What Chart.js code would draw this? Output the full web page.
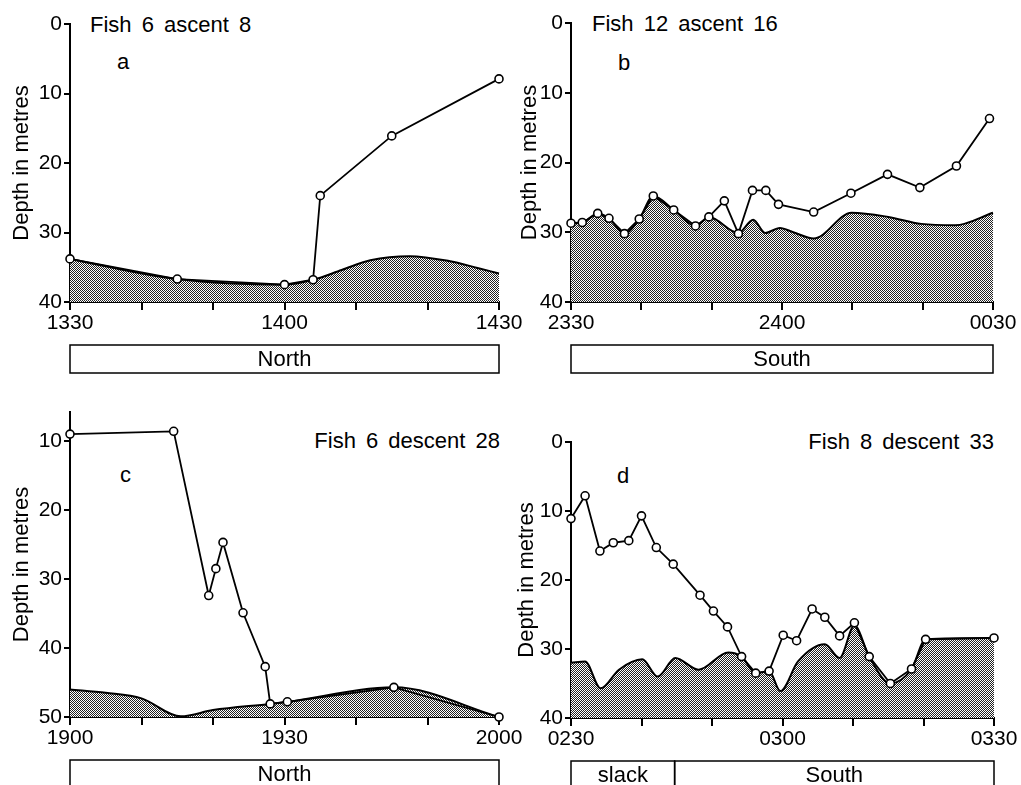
<!DOCTYPE html>
<html>
<head>
<meta charset="utf-8">
<script src="https://cdn.jsdelivr.net/npm/chart.js@4.4.0/dist/chart.umd.min.js"></script>
<style>
  html, body { margin: 0; padding: 0; background: #fff; }
  #page { position: relative; width: 1021px; height: 785px; overflow: hidden; }
  canvas { position: absolute; }
  .lbl { position: absolute; font: 22px "Liberation Sans", Arial, sans-serif; line-height: 26px;
         white-space: pre; color: #000; word-spacing: 4px; }
</style>
</head>
<body>
<div id="page">
  <div class="lbl" style="left:90px; top:12px">Fish 6 ascent 8</div>
  <div class="lbl" style="left:117px; top:49px">a</div>
  <div class="lbl" style="left:592px; top:11px">Fish 12 ascent 16</div>
  <div class="lbl" style="left:618px; top:50px">b</div>
  <div class="lbl" style="right:521px; top:428px">Fish 6 descent 28</div>
  <div class="lbl" style="left:120px; top:462px">c</div>
  <div class="lbl" style="right:27px; top:429px">Fish 8 descent 33</div>
  <div class="lbl" style="left:617px; top:463px">d</div>
</div>
<script>
// times are minutes from the start of each panel, depths in metres

// (a) Fish 6 ascent 8, 1330-1430
const ticksA = ['1330', '1400', '1430'];
const timeA = [0, 15, 30, 34, 35, 45, 60];
const fishA = [33.8, 36.7, 37.5, 36.8, 24.7, 16.1, 7.9];
const bedTimeA = [0, 15, 30, 34, 38, 42, 47.5, 53, 57, 60];
const bedA = [33.8, 36.7, 37.5, 36.8, 35.4, 34.0, 33.4, 34.1, 35.1, 35.9];

// (b) Fish 12 ascent 16, 2330-0030
const ticksB = ['2330', '2400', '0030'];
const timeB = [0, 1.6, 3.8, 5.4, 7.6, 9.7, 11.7, 14.6, 17.7, 19.6, 21.8, 23.8, 25.8, 27.7, 29.5, 34.5, 39.8, 45.0, 49.6, 54.8, 59.5];
const fishB = [28.7, 28.6, 27.3, 28.0, 30.2, 28.1, 24.8, 26.8, 29.1, 27.8, 25.5, 30.2, 24.0, 24.0, 26.0, 27.1, 24.4, 21.7, 23.6, 20.5, 13.7];
const bedTimeB = [0, 1.6, 3.8, 5.4, 7.6, 9.7, 11.7, 14.6, 17.7, 19.6, 23.8, 25.9, 27.6, 29.7, 31.6, 34.5, 39.9, 45.1, 49.8, 54.6, 60];
const bedB = [28.7, 28.6, 27.3, 28.0, 30.2, 28.1, 24.8, 26.8, 29.1, 27.8, 30.1, 28.2, 30.1, 29.4, 30.0, 30.9, 27.2, 27.8, 28.8, 29.0, 27.2];

// (c) Fish 6 descent 28, 1900-2000
const ticksC = ['1900', '1930', '2000'];
const timeC = [0, 14.5, 19.4, 20.4, 21.4, 24.2, 27.3, 28.0, 30.4, 45.3, 60];
const fishC = [9.0, 8.6, 32.4, 28.5, 24.7, 34.9, 42.7, 48.1, 47.8, 45.7, 50.0];
const bedTimeC = [0, 5, 10, 15.5, 20, 28, 30.4, 45.3, 60];
const bedC = [46.0, 46.5, 47.3, 49.9, 49.0, 48.1, 47.8, 45.7, 50.0];

// (d) Fish 8 descent 33, 0230-0330
const ticksD = ['0230', '0300', '0330'];
const timeD = [0, 2.0, 4.1, 6.0, 8.2, 10.0, 12.1, 14.5, 18.3, 20.2, 22.2, 24.2, 26.2, 28.1, 30.1, 32.0, 34.2, 36.0, 38.1, 40.2, 42.3, 45.3, 48.3, 50.3, 60];
const fishD = [11.1, 7.8, 15.8, 14.6, 14.3, 10.7, 15.3, 17.7, 22.2, 24.5, 26.8, 31.1, 33.5, 33.2, 28.0, 28.8, 24.2, 25.4, 28.1, 26.2, 31.1, 35.0, 32.9, 28.6, 28.4];
const bedTimeD = [0, 2, 4.2, 6.8, 10.1, 12.3, 14.8, 18.1, 22.3, 24.2, 26.2, 28.1, 29.7, 32.2, 36.0, 38.1, 40.2, 42.3, 45.3, 48.3, 50.3, 60];
const bedD = [32.0, 31.8, 35.7, 33.0, 31.5, 34.0, 31.3, 33.0, 30.5, 31.1, 33.5, 33.2, 36.1, 31.8, 29.3, 31.3, 26.6, 31.1, 35.0, 32.9, 28.6, 28.4];

const depthTicks = [0, 10, 20, 30, 40];
const depthTicksC = [10, 20, 30, 40, 50];

const textFont = { family: '"Liberation Sans", Arial, sans-serif', size: 22 };
const tickFont = { family: '"Liberation Sans", Arial, sans-serif', size: 21 };

const page = document.getElementById('page');
const pts = (xs, ys) => xs.map((x, i) => ({ x: x, y: ys[i] }));

// checker hatching for the sea bed
function makeHatch() {
  const c = document.createElement('canvas');
  c.width = 2; c.height = 2;
  const g = c.getContext('2d');
  g.fillStyle = '#fff'; g.fillRect(0, 0, 2, 2);
  g.fillStyle = '#222'; g.fillRect(0, 0, 1, 1); g.fillRect(1, 1, 1, 1);
  return g.createPattern(c, 'repeat');
}
const hatch = makeHatch();

// tidal current boxes under the time axis
const flowBoxes = {
  id: 'flowBoxes',
  afterDraw(chart, args, opts) {
    const { ctx, chartArea } = chart;
    const x = chart.scales.x;
    const top = chartArea.bottom + 43, h = 28;
    ctx.save();
    ctx.strokeStyle = '#000';
    ctx.lineWidth = 1.5;
    ctx.fillStyle = '#000';
    ctx.font = '22px "Liberation Sans", Arial, sans-serif';
    ctx.textAlign = 'center';
    ctx.textBaseline = 'middle';
    opts.labels.forEach((label, i) => {
      const x0 = x.getPixelForValue(opts.edges[i]);
      const x1 = x.getPixelForValue(opts.edges[i + 1]);
      ctx.strokeRect(x0, top, x1 - x0, h);
      ctx.fillText(label, (x0 + x1) / 2, top + h / 2 + 1);
    });
    ctx.restore();
  }
};

function drawPanel(p) {
  const canvas = document.createElement('canvas');
  canvas.width = 70 + p.w + 46;
  canvas.height = 24 + p.h + 90;
  canvas.style.left = (p.left - 70) + 'px';
  canvas.style.top = (p.top - 24) + 'px';
  page.appendChild(canvas);

  new Chart(canvas, {
    type: 'line',
    data: {
      datasets: [
        {
          data: pts(p.time, p.fish), clip: false,
          borderColor: '#000', borderWidth: 1.8, tension: 0, fill: false,
          pointRadius: 4, pointBackgroundColor: '#fff', pointBorderColor: '#000', pointBorderWidth: 1.6
        },
        {
          data: pts(p.bedTime, p.bed), clip: false,
          borderColor: '#000', borderWidth: 2, pointRadius: 0,
          cubicInterpolationMode: 'monotone',
          fill: { value: p.yMax }, backgroundColor: hatch
        }
      ]
    },
    options: {
      responsive: false,
      animation: false,
      devicePixelRatio: 1,
      layout: { padding: { left: 0, top: 24, right: 46, bottom: 60 } },
      plugins: {
        legend: { display: false },
        tooltip: { enabled: false },
        flowBoxes: { labels: p.flowLabels, edges: p.flowEdges }
      },
      scales: {
        x: {
          type: 'linear', min: 0, max: 60,
          afterFit: s => { s.height = 30; },
          border: { display: true, color: '#000', width: 2 },
          grid: { display: true, drawOnChartArea: false, drawTicks: true, color: '#000',
                  tickColor: '#000', tickWidth: 2, lineWidth: 2, tickLength: 8 },
          ticks: {
            stepSize: 10, autoSkip: false, maxRotation: 0, padding: 1, color: '#000', font: tickFont,
            callback: v => (v % 30 === 0 ? p.xLabels[v / 30] : '')
          }
        },
        y: {
          type: 'linear', reverse: true, min: p.yMin, max: p.yMax,
          afterFit: s => { s.width = 70; },
          afterBuildTicks: s => { s.ticks = p.yTicks.map(v => ({ value: v })); },
          border: { display: true, color: '#000', width: 2 },
          grid: { display: true, drawOnChartArea: false, drawTicks: true, color: '#000',
                  tickColor: '#000', tickWidth: 2, lineWidth: 2, tickLength: 6 },
          ticks: { padding: 2, color: '#000', font: tickFont },
          title: { display: true, text: 'Depth in metres', color: '#000', font: textFont,
                   padding: { top: p.titlePad, bottom: 0 } }
        }
      }
    },
    plugins: [flowBoxes]
  });
}

drawPanel({ left: 70, top: 24, w: 429, h: 278, yMin: 0, yMax: 40, yTicks: depthTicks, xLabels: ticksA,
  time: timeA, fish: fishA, bedTime: bedTimeA, bed: bedA, titlePad: 9,
  flowLabels: ['North'], flowEdges: [0, 60] });
drawPanel({ left: 571, top: 23, w: 422, h: 279, yMin: 0, yMax: 40, yTicks: depthTicks, xLabels: ticksB,
  time: timeB, fish: fishB, bedTime: bedTimeB, bed: bedB, titlePad: 16,
  flowLabels: ['South'], flowEdges: [0, 60] });
drawPanel({ left: 70, top: 412, w: 429, h: 305, yMin: 5.8, yMax: 50, yTicks: depthTicksC, xLabels: ticksC,
  time: timeC, fish: fishC, bedTime: bedTimeC, bed: bedC, titlePad: 9,
  flowLabels: ['North'], flowEdges: [0, 60] });
drawPanel({ left: 571, top: 442, w: 423, h: 276, yMin: 0, yMax: 40, yTicks: depthTicks, xLabels: ticksD,
  time: timeD, fish: fishD, bedTime: bedTimeD, bed: bedD, titlePad: 13,
  flowLabels: ['slack', 'South'], flowEdges: [0, 14.7, 60] });
</script>
</body>
</html>
